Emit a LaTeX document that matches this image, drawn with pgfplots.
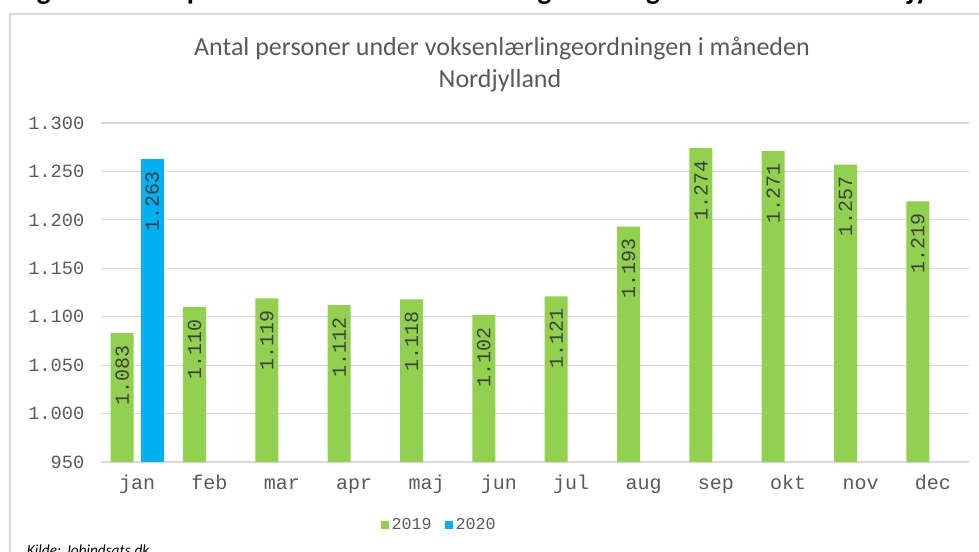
\documentclass[border=0pt]{standalone}
\usepackage{pgfplots}
\pgfplotsset{compat=1.18}
\usepackage{fontspec}
\setmainfont{Carlito}
\setmonofont{Liberation Mono}
\definecolor{cgreen}{HTML}{92D050}
\definecolor{cblue}{HTML}{00B0F0}
\definecolor{cgrid}{HTML}{D9D9D9}
\definecolor{ctext}{HTML}{595959}
\definecolor{clabel}{HTML}{404040}
\begin{document}
\begin{tikzpicture}
\useasboundingbox (0,0) rectangle (734.25pt,414pt);
\clip (0,0) rectangle (734.25pt,414pt);
% cut-off caption above the chart frame
\node[anchor=base west, inner sep=0pt, font=\fontsize{22}{26}\selectfont\bfseries] at (12pt,414.5pt)
  {Figur 3: Antal personer under voksenlærlingeordningen i måneden i Nordjylland};
% chart frame
\draw[cgrid, line width=0.9pt] (7.5pt,-10pt) -- (7.5pt,403.5pt) -- (760pt,403.5pt);
% title
\node[font=\fontsize{19.5}{22}\selectfont, text=ctext] at (376.5pt,377.25pt) {Antal personer under voksenlærlingeordningen i måneden};
\node[font=\fontsize{19.5}{22}\selectfont, text=ctext] at (375pt,353.5pt) {Nordjylland};
% source
\node[anchor=base west, inner sep=0pt, font=\fontsize{11.5}{14}\selectfont\itshape] at (20pt,-2.6pt) {Kilde: Jobindsats.dk};
\begin{axis}[
  at={(75.75pt,67.5pt)}, anchor=south west,
  scale only axis, width=651pt, height=254.25pt,
  ybar=5.25pt, bar width=17.25pt,
  xmin=-0.5, xmax=11.5, ymin=950, ymax=1300,
  xtick={0,...,11},
  xticklabels={jan,feb,mar,apr,maj,jun,jul,aug,sep,okt,nov,dec},
  ytick={950,1000,...,1300},
  scaled y ticks=false,
  /pgf/number format/.cd, 1000 sep={.}, assume math mode=true, /pgfplots/.cd,
  axis lines*=left,
  y axis line style={draw=none},
  x axis line style={draw=cgrid, line width=0.9pt, -},
  major tick length=0pt,
  ymajorgrids, grid style={cgrid, line width=0.9pt},
  yticklabel style={font=\ttfamily\fontsize{14}{16}\selectfont, text=ctext, xshift=-9pt},
  xticklabel style={font=\ttfamily\fontsize{15}{17}\selectfont, text=ctext, anchor=base, yshift=-21pt},
  nodes near coords,
  every node near coord/.append style={rotate=90, anchor=east, inner xsep=9pt,
     font=\ttfamily\fontsize{15}{17}\selectfont, text=clabel},
  legend style={at={(0.39,-0.186)}, anchor=center, draw=none, legend columns=2,
     font=\ttfamily\fontsize{12.5}{14}\selectfont, text=ctext,
     /tikz/every even column/.append style={column sep=8pt}},
  legend image code/.code={\fill[#1, draw=none] (0pt,-3pt) rectangle (6pt,3pt);},
]
\addplot[fill=cgreen, draw=none] coordinates {(0,1083) (1,1110) (2,1119) (3,1112) (4,1118) (5,1102) (6,1121) (7,1193) (8,1274) (9,1271) (10,1257) (11,1219)};
\addplot[fill=cblue, draw=none] coordinates {(0,1263)};
\legend{2019,2020}
\end{axis}
\end{tikzpicture}
\end{document}
